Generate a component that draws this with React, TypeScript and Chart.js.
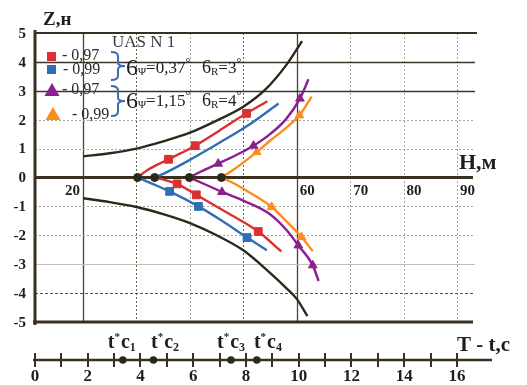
import React, { useEffect, useRef } from "react";
import { Chart, registerables } from "chart.js";

Chart.register(...registerables);

// ---- axis / tick data ----
const zTicks = [5, 4, 3, 2, 1, 0, -1, -2, -3, -4, -5];
const hGridValues = [20, 30, 40, 50, 60, 70, 80, 90];
const hTickLabels = [20, 60, 70, 80, 90];
const tTicks = [0, 1, 2, 3, 4, 5, 6, 7, 8, 9, 10, 11, 12, 13, 14, 15, 16];
const tTickLabels = [0, 2, 4, 6, 8, 10, 12, 14, 16];
const tcValues = [3.33, 4.49, 7.43, 8.41];
const tcLabelValues = [3.33, 4.97, 7.47, 8.87];
const tcNames = ["1", "2", "3", "4"];

const legendLabels = ["- 0,97", "- 0,99", "- 0,97", "- 0,99"];
const sigmaPsi = ["0,37", "1,15"];
const sigmaR = ["3", "4"];
const titleText = "UAS N 1";

// ---- series (H, Z) ----
type P = [number, number];
const upperBlack: P[] = [[20, 0.73], [25, 0.84], [30, 1.0], [35, 1.25], [40, 1.55], [45, 1.97], [50, 2.45], [54, 3.02], [58, 3.88], [61, 4.72]];
const lowerBlack: P[] = [[20, -0.72], [25, -0.85], [30, -1.02], [35, -1.27], [40, -1.58], [45, -2.0], [50, -2.52], [55, -3.3], [58, -3.82], [60, -4.2], [62, -4.8]];

const redUp: P[] = [[30.2, 0], [32, 0.25], [36, 0.63], [41, 1.1], [45.5, 1.62], [50.6, 2.22], [54.5, 2.64]];
const blueUp: P[] = [[33.4, 0], [35.5, 0.17], [39.4, 0.55], [45.7, 1.22], [50.7, 1.78], [56.6, 2.56]];
const purpleUp: P[] = [[39.9, 0], [42, 0.2], [45.3, 0.48], [48.5, 0.76], [51.9, 1.1], [55, 1.5], [58, 2.02], [60.6, 2.73], [62.2, 3.4]];
const orangeUp: P[] = [[45.9, 0], [48, 0.25], [52.5, 0.88], [55, 1.27], [58, 1.72], [60.5, 2.15], [62.8, 2.8]];

const blueLow: P[] = [[30.2, 0], [33, -0.22], [36.2, -0.48], [41.6, -1.0], [46, -1.5], [50.7, -2.08], [54.4, -2.52]];
const redLow: P[] = [[33.4, 0], [35.5, -0.1], [37.6, -0.22], [41.2, -0.6], [47, -1.22], [52.8, -1.87], [57.1, -2.56]];
const purpleLow: P[] = [[39.9, 0], [43, -0.25], [46, -0.5], [50, -0.8], [55, -1.27], [58, -1.8], [60.3, -2.35], [63, -3.04], [64.1, -3.58]];
const orangeLow: P[] = [[45.9, 0], [48, -0.18], [51, -0.5], [55.3, -1.02], [58, -1.5], [60.9, -2.06], [63, -2.55]];

const redMarks: P[] = [[36, 0.63], [41, 1.1], [50.6, 2.22], [37.6, -0.22], [41.2, -0.6], [52.8, -1.87]];
const blueMarks: P[] = [[36.2, -0.48], [41.6, -1.0], [50.7, -2.08]];
const purpleMarks: P[] = [[45.3, 0.48], [51.9, 1.1], [60.6, 2.73], [46, -0.5], [60.3, -2.35], [63, -3.04]];
const orangeMarks: P[] = [[52.5, 0.88], [60.5, 2.15], [55.3, -1.02], [60.9, -2.06]];
const originH = [30.2, 33.4, 39.9, 45.9];

// ---- styles ----
const RED = "#dc2f2f";
const BLUE = "#2f6fb3";
const PURPLE = "#8a1f8f";
const ORANGE = "#ff8c1a";
const DARK = "#2c291b";
const AXIS = "#3a3022";
const SERIF = "'Liberation Serif', 'DejaVu Serif', serif";

const toXY = (d: P[]) => d.map(([x, y]) => ({ x, y }));

const lineDs = (d: P[], color: string) => ({
  data: toXY(d),
  showLine: true,
  borderColor: color,
  backgroundColor: color,
  borderWidth: 2.4,
  pointRadius: 0,
  pointHoverRadius: 0,
  cubicInterpolationMode: "monotone",
  tension: 0.4,
  fill: false,
  order: 5,
});

const markDs = (d: P[], color: string, style: string, r: number) => ({
  data: toXY(d),
  showLine: false,
  pointStyle: style,
  pointRadius: r,
  pointHoverRadius: r,
  backgroundColor: color,
  borderColor: color,
  borderWidth: 1,
  order: 2,
});

function drawRuns(ctx: CanvasRenderingContext2D, x: number, y: number, parts: [string, number, number][]) {
  for (const [s, size, dy] of parts) {
    ctx.font = `${size}px ${SERIF}`;
    ctx.fillText(s, x, y + dy);
    x += ctx.measureText(s).width;
  }
  return x;
}

function brace(ctx: CanvasRenderingContext2D, x: number, y0: number, y1: number, w: number) {
  const h = y1 - y0;
  const ym = (y0 + y1) / 2;
  const xm = x + w / 2;
  ctx.beginPath();
  ctx.moveTo(x, y0);
  ctx.quadraticCurveTo(xm, y0, xm, y0 + h * 0.15);
  ctx.lineTo(xm, ym - h * 0.12);
  ctx.quadraticCurveTo(xm, ym, x + w, ym);
  ctx.quadraticCurveTo(xm, ym, xm, ym + h * 0.12);
  ctx.lineTo(xm, y1 - h * 0.15);
  ctx.quadraticCurveTo(xm, y1, x, y1);
  ctx.stroke();
}

const decor = {
  id: "decor",
  beforeDatasetsDraw(chart: any) {
    const { ctx, chartArea: a, scales } = chart;
    const sx = scales.x;
    const sy = scales.y;
    ctx.save();
    // vertical grid
    for (const v of hGridValues) {
      const px = Math.round(sx.getPixelForValue(v)) + 0.5;
      if (v === 20 || v === 60) {
        ctx.strokeStyle = "#4a4030";
        ctx.lineWidth = 1.3;
        ctx.setLineDash([]);
      } else if (v === 30 || v === 50) {
        ctx.strokeStyle = "#6a6050";
        ctx.lineWidth = 1;
        ctx.setLineDash([2, 2]);
      } else {
        ctx.strokeStyle = "#a8a298";
        ctx.lineWidth = 1;
        ctx.setLineDash([2, 2]);
      }
      ctx.beginPath();
      ctx.moveTo(px, a.top);
      ctx.lineTo(px, a.bottom);
      ctx.stroke();
    }
    // horizontal grid
    for (const v of zTicks) {
      if (v === 5 || v === -5 || v === 0) continue;
      const py = Math.round(sy.getPixelForValue(v)) + 0.5;
      if (v === 4 || v === 3) {
        ctx.strokeStyle = "#3e3526";
        ctx.lineWidth = 1.5;
        ctx.setLineDash([]);
      } else if (v === -4) {
        ctx.strokeStyle = "#5a5040";
        ctx.lineWidth = 1.2;
        ctx.setLineDash([3, 2]);
      } else if (v === -3) {
        ctx.strokeStyle = "#c4c0b8";
        ctx.lineWidth = 1;
        ctx.setLineDash([]);
      } else {
        ctx.strokeStyle = "#a8a298";
        ctx.lineWidth = 1;
        ctx.setLineDash([2, 2]);
      }
      ctx.beginPath();
      ctx.moveTo(a.left, py);
      ctx.lineTo(a.right + 2, py);
      ctx.stroke();
    }
    ctx.setLineDash([]);
    ctx.strokeStyle = AXIS;
    // top border
    ctx.lineWidth = 2;
    ctx.beginPath();
    ctx.moveTo(a.left, a.top);
    ctx.lineTo(a.right + 4, a.top);
    ctx.stroke();
    // bottom border
    ctx.lineWidth = 3;
    ctx.beginPath();
    ctx.moveTo(a.left - 2, a.bottom);
    ctx.lineTo(a.right, a.bottom);
    ctx.stroke();
    // zero line
    const y0 = sy.getPixelForValue(0);
    ctx.lineWidth = 3;
    ctx.beginPath();
    ctx.moveTo(a.left, y0);
    ctx.lineTo(a.right, y0);
    ctx.stroke();
    // left axis
    ctx.lineWidth = 3;
    ctx.beginPath();
    ctx.moveTo(a.left, a.top - 3);
    ctx.lineTo(a.left, a.bottom + 3);
    ctx.stroke();
    ctx.restore();
  },
  afterDraw(chart: any) {
    const { ctx, chartArea: a, scales } = chart;
    const sx = scales.x;
    const sy = scales.y;
    const st = scales.t;
    ctx.save();
    ctx.fillStyle = "#1e1e1e";
    // Y tick labels
    ctx.font = `bold 15px ${SERIF}`;
    ctx.textAlign = "right";
    ctx.textBaseline = "middle";
    for (const v of zTicks) {
      ctx.fillText(String(v), a.left - 9, sy.getPixelForValue(v) + 1);
    }
    // H tick labels
    const yl = sy.getPixelForValue(0) + 14;
    for (const v of hTickLabels) {
      const px = sx.getPixelForValue(v);
      if (v === 20) {
        ctx.textAlign = "right";
        ctx.fillText(String(v), px - 3, yl);
      } else {
        ctx.textAlign = "left";
        ctx.fillText(String(v), px + 3, yl);
      }
    }
    // axis titles
    ctx.textAlign = "left";
    ctx.font = `bold 19px ${SERIF}`;
    ctx.fillText("Z,н", 43, 20);
    ctx.font = `bold 22px ${SERIF}`;
    ctx.fillText("H,м", 459, sy.getPixelForValue(0) - 14);

    // T axis
    const ty = 360;
    ctx.strokeStyle = AXIS;
    ctx.lineWidth = 2.5;
    ctx.beginPath();
    ctx.moveTo(st.getPixelForValue(0) - 2, ty);
    ctx.lineTo(492, ty);
    ctx.stroke();
    ctx.lineWidth = 2;
    for (const v of tTicks) {
      const px = Math.round(st.getPixelForValue(v));
      ctx.beginPath();
      ctx.moveTo(px, ty - 7);
      ctx.lineTo(px, ty + 7);
      ctx.stroke();
    }
    ctx.font = `bold 17px ${SERIF}`;
    ctx.textAlign = "center";
    ctx.textBaseline = "middle";
    for (const v of tTickLabels) {
      ctx.fillText(String(v), st.getPixelForValue(v), ty + 17);
    }
    ctx.fillStyle = DARK;
    for (const v of tcValues) {
      ctx.beginPath();
      ctx.arc(st.getPixelForValue(v), ty, 3.8, 0, Math.PI * 2);
      ctx.fill();
    }
    ctx.fillStyle = "#1e1e1e";
    ctx.textAlign = "left";
    ctx.textBaseline = "alphabetic";
    tcLabelValues.forEach((v, i) => {
      const cx = st.getPixelForValue(v);
      let x = cx - 15;
      ctx.font = `bold 20px ${SERIF}`;
      ctx.fillText("t", x, 348);
      x += ctx.measureText("t").width;
      ctx.font = `bold 11px ${SERIF}`;
      ctx.fillText("*", x, 340);
      x += ctx.measureText("*").width + 1;
      ctx.font = `bold 20px ${SERIF}`;
      ctx.fillText("c", x, 348);
      x += ctx.measureText("c").width;
      ctx.font = `bold 12px ${SERIF}`;
      ctx.fillText(tcNames[i], x, 351);
    });
    ctx.font = `bold 21px ${SERIF}`;
    ctx.textBaseline = "middle";
    ctx.fillText("T - t,c", 457, 346);

    // legend block
    ctx.fillStyle = RED;
    ctx.fillRect(47, 52, 9, 9);
    ctx.fillStyle = BLUE;
    ctx.fillRect(47, 65, 9, 9);
    const tri = (cx: number, cy: number, color: string) => {
      ctx.fillStyle = color;
      ctx.beginPath();
      ctx.moveTo(cx, cy - 7);
      ctx.lineTo(cx + 7.5, cy + 6);
      ctx.lineTo(cx - 7.5, cy + 6);
      ctx.closePath();
      ctx.fill();
    };
    tri(52, 90, PURPLE);
    tri(53, 114, ORANGE);
    ctx.fillStyle = "#2a2a2a";
    ctx.font = `16px ${SERIF}`;
    ctx.textBaseline = "middle";
    ctx.fillText(legendLabels[0], 62, 56);
    ctx.fillText(legendLabels[1], 63, 70);
    ctx.fillText(legendLabels[2], 62, 90);
    ctx.fillText(legendLabels[3], 72, 115);

    ctx.font = `17px ${SERIF}`;
    ctx.fillStyle = "#3a3a3a";
    ctx.fillText(titleText, 112, 43);

    ctx.strokeStyle = "#3a6db5";
    ctx.lineWidth = 2;
    brace(ctx, 111, 52, 80, 14);
    brace(ctx, 111, 86, 116, 14);

    ctx.fillStyle = "#1e1e1e";
    ctx.textBaseline = "alphabetic";
    const rows = [73, 106];
    rows.forEach((by, i) => {
      drawRuns(ctx, 126, by, [
        ["6", 24, 2],
        ["Ψ", 11, 2],
        ["=" + sigmaPsi[i], 17, 0],
        ["°", 12, -7],
      ]);
      drawRuns(ctx, 202, by, [
        ["6", 18, 0],
        ["R", 11, 2],
        ["=" + sigmaR[i], 17, 0],
        ["°", 12, -7],
      ]);
    });
    ctx.restore();
  },
};

export default function App() {
  const ref = useRef<HTMLCanvasElement | null>(null);
  useEffect(() => {
    if (!ref.current) return;
    const datasets: any[] = [
      lineDs(upperBlack, DARK),
      lineDs(lowerBlack, DARK),
      lineDs(redUp, RED),
      lineDs(blueUp, BLUE),
      lineDs(purpleUp, PURPLE),
      lineDs(orangeUp, ORANGE),
      lineDs(blueLow, BLUE),
      lineDs(redLow, RED),
      lineDs(purpleLow, PURPLE),
      lineDs(orangeLow, ORANGE),
      markDs(redMarks, RED, "rect", 5.5),
      markDs(blueMarks, BLUE, "rect", 5.5),
      markDs(purpleMarks, PURPLE, "triangle", 5),
      markDs(orangeMarks, ORANGE, "triangle", 5),
      {
        data: originH.map((h) => ({ x: h, y: 0 })),
        showLine: false,
        pointStyle: "circle",
        pointRadius: 4,
        pointHoverRadius: 4,
        backgroundColor: DARK,
        borderColor: DARK,
        order: 0,
      },
    ];
    const chart = new Chart(ref.current, {
      type: "scatter",
      data: { datasets },
      options: {
        responsive: false,
        animation: false,
        events: [],
        layout: { padding: { left: 35, top: 33, right: 54, bottom: 63 } },
        plugins: { legend: { display: false }, tooltip: { enabled: false } },
        scales: {
          x: { type: "linear", min: 11, max: 93, display: false },
          y: { type: "linear", min: -5, max: 5, display: false },
          t: { type: "linear", axis: "x", position: "bottom", min: 0, max: 16.607, display: false },
        },
      } as any,
      plugins: [decor],
    });
    return () => chart.destroy();
  }, []);
  return (
    <div style={{ position: "absolute", left: 0, top: 0, width: 527, height: 385, background: "#fff" }}>
      <canvas ref={ref} width={527} height={385} style={{ width: 527, height: 385, display: "block" }} />
    </div>
  );
}
